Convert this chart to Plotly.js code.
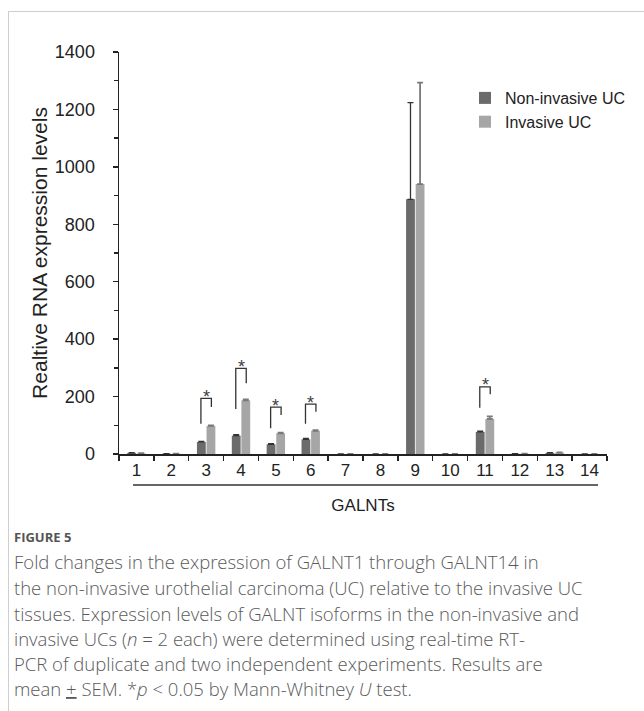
<!DOCTYPE html>
<html>
<head>
<meta charset="utf-8">
<script src="https://cdn.plot.ly/plotly-3.0.1.min.js"></script>
<style>html,body{margin:0;padding:0;background:#fff;}#chart{width:644px;height:711px;}</style>
</head>
<body>
<div id="chart"></div>
<script>
// ---- data ----
const categories = ["1","2","3","4","5","6","7","8","9","10","11","12","13","14"];
const nonInvasive = [4, 1, 42, 64, 34, 51, 0, 0, 887, 0, 77, 1, 4, 0];
const invasive    = [2, 1, 98, 187, 72, 81, 0, 0, 940, 0, 122, 1, 5, 0];
const nonInvasiveSEM = [1, 0, 2, 3, 2, 3, 0, 0, 337, 0, 3, 0, 1, 0];
const invasiveSEM    = [1, 0, 2, 3, 2, 2, 0, 0, 353, 0, 9, 0, 1, 0];
// significance brackets (category, left foot, top, right foot, star level)
const sigCats      = ["3","4","5","6","11"];
const sigLeftFoot  = [105, 157, 90, 105, 161];
const sigTop       = [194, 298, 163, 174, 234];
const sigRightFoot = [164, 246, 136, 147, 208];
const sigStar      = [212, 318, 182, 193, 255];
const yTicks = [0, 200, 400, 600, 800, 1000, 1200, 1400];
const captionTitle = "FIGURE 5";
const captionLines = [
  "Fold changes in the expression of GALNT1 through GALNT14 in",
  "the non-invasive urothelial carcinoma (UC) relative to the invasive UC",
  "tissues. Expression levels of GALNT isoforms in the non-invasive and",
  "invasive UCs (<i>n</i> = 2 each) were determined using real-time RT-",
  "PCR of duplicate and two independent experiments. Results are",
  "mean <u>+</u> SEM. *<i>p</i> &lt; 0.05 by Mann-Whitney <i>U</i> test."
];

// ---- layout geometry ----
const W = 644, H = 711;
const L = 119, R = 607, T = 52, B = 454;
const px2x = p => (p - L) / (R - L);
const px2y = p => (B - p) / (B - T);

const font = "Liberation Sans, Arial, sans-serif";
const capFont = "Open Sans, sans-serif";

const traces = [
  {
    type: "bar", name: "Non-invasive UC", x: categories, y: nonInvasive,
    marker: {color: "#6b6b6b"},
    error_y: {type: "data", array: nonInvasiveSEM, visible: true, symmetric: false,
              arrayminus: nonInvasiveSEM.map(() => 0),
              color: "#333333", thickness: 1.3, width: 3}
  },
  {
    type: "bar", name: "Invasive UC", x: categories, y: invasive,
    marker: {color: "#a6a6a6"},
    error_y: {type: "data", array: invasiveSEM, visible: true, symmetric: false,
              arrayminus: invasiveSEM.map(() => 0),
              color: "#7a7a7a", thickness: 1.8, width: 3}
  }
];

const shapes = [];
const annotations = [];
const off = 0.15;
sigCats.forEach((c, i) => {
  const idx = categories.indexOf(c);
  const line = {color: "#333333", width: 1.3};
  shapes.push({type: "path", xref: "x", yref: "y", line: line,
    path: `M ${idx - off},${sigLeftFoot[i]} L ${idx - off},${sigTop[i]} L ${idx + off},${sigTop[i]} L ${idx + off},${sigRightFoot[i]}`});
  annotations.push({xref: "x", yref: "y", x: idx, y: sigStar[i], text: "*",
    showarrow: false, font: {family: font, size: 18, color: "#404040"}, yshift: -4});
});

// GALNTs underline
shapes.push({type: "line", xref: "paper", yref: "paper",
  x0: px2x(133), x1: px2x(598), y0: px2y(485), y1: px2y(485),
  line: {color: "#333333", width: 1.3}});
// frame lines
shapes.push({type: "line", xref: "paper", yref: "paper",
  x0: px2x(8), x1: px2x(650), y0: px2y(11.5), y1: px2y(11.5),
  line: {color: "#cfcfcf", width: 1}});
shapes.push({type: "line", xref: "paper", yref: "paper",
  x0: px2x(8.5), x1: px2x(8.5), y0: px2y(11.5), y1: px2y(715),
  line: {color: "#cfcfcf", width: 1}});

// caption
annotations.push({xref: "paper", yref: "paper", x: px2x(12), y: px2y(537),
  xanchor: "left", yanchor: "middle", showarrow: false, text: "<b>" + captionTitle + "</b>",
  font: {family: capFont, size: 13, color: "#555555"}});
const capY = [561.5, 587.5, 613, 638, 663, 688.5];
captionLines.forEach((t, i) => {
  annotations.push({xref: "paper", yref: "paper", x: px2x(12), y: px2y(capY[i]),
    xanchor: "left", yanchor: "middle", showarrow: false, text: t,
    font: {family: capFont, size: 18.5, weight: 300, color: "#5a5a5a"}});
});

const layout = {
  width: W, height: H,
  margin: {l: L, r: W - R, t: T, b: H - B, pad: 0},
  paper_bgcolor: "#ffffff", plot_bgcolor: "#ffffff",
  font: {family: font, size: 17, color: "#222222"},
  barmode: "group", bargap: 0.45, bargroupgap: 0.08,
  showlegend: true,
  legend: {x: px2x(465), y: px2y(81), xanchor: "left", yanchor: "top",
           font: {family: font, size: 16, color: "#222222"}, bgcolor: "rgba(0,0,0,0)"},
  xaxis: {
    type: "category", categoryorder: "array", categoryarray: categories,
    range: [-0.5, 13.5], tickson: "boundaries", ticks: "outside", ticklen: 5,
    tickwidth: 1.3, tickcolor: "#222", showline: true, linecolor: "#222", linewidth: 1.5,
    showgrid: false, zeroline: false, fixedrange: true,
    tickfont: {family: font, size: 17, color: "#222"},
    title: {text: "GALNTs", font: {family: font, size: 17, color: "#222"}, standoff: 20}
  },
  yaxis: {
    range: [0, 1400], tickvals: yTicks, ticktext: yTicks.map(String),
    ticks: "outside", ticklen: 5, tickwidth: 1.3, tickcolor: "#222",
    minor: {dtick: 100, ticks: "outside", ticklen: 4, tickwidth: 1.3, tickcolor: "#222"},
    showline: true, linecolor: "#222", linewidth: 1.5,
    showgrid: false, zeroline: false, fixedrange: true,
    ticklabelstandoff: 14,
    tickfont: {family: font, size: 18, color: "#222"},
    title: {text: "Realtive RNA expression levels", font: {family: font, size: 21, color: "#222"}, standoff: 1}
  },
  shapes: shapes,
  annotations: annotations
};

Plotly.newPlot("chart", traces, layout, {displayModeBar: false, staticPlot: true});
</script>
</body>
</html>
